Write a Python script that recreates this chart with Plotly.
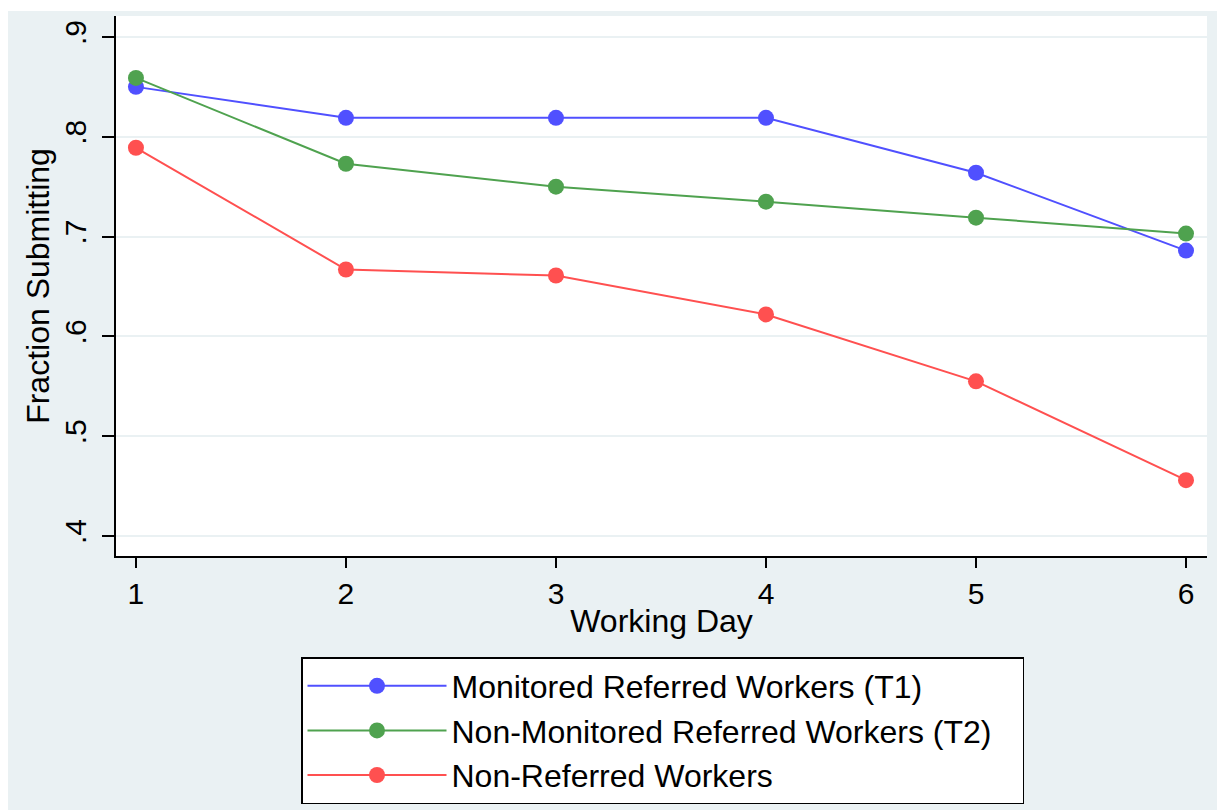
import plotly.graph_objects as go

days = [1, 2, 3, 4, 5, 6]
t1_monitored = [0.850, 0.819, 0.819, 0.819, 0.764, 0.686]
t2_nonmonitored = [0.859, 0.773, 0.750, 0.735, 0.719, 0.703]
non_referred = [0.789, 0.667, 0.661, 0.622, 0.555, 0.456]

series_names = ["Monitored Referred Workers (T1)",
                "Non-Monitored Referred Workers (T2)",
                "Non-Referred Workers"]
series_colors = ["#5050ff", "#4fa24f", "#ff5050"]

y_tickvals = [0.4, 0.5, 0.6, 0.7, 0.8, 0.9]
y_ticktext = [".4", ".5", ".6", ".7", ".8", ".9"]

FONT = "Liberation Sans, Arial, Helvetica, sans-serif"
BG = "#eaf1f3"

fig = go.Figure()
for name, vals, col in zip(series_names, [t1_monitored, t2_nonmonitored, non_referred], series_colors):
    fig.add_trace(go.Scatter(
        x=days, y=vals, name=name, mode="lines+markers",
        line=dict(color=col, width=2),
        marker=dict(color=col, size=16),
    ))

fig.update_layout(
    width=1225, height=810,
    margin=dict(l=108, r=26, t=8, b=262, autoexpand=False),
    paper_bgcolor=BG, plot_bgcolor="white",
    font=dict(family=FONT, color="black", size=30),
    showlegend=True,
    legend=dict(
        x=(301 - 116) / 1091, y=(556 - 657) / 540,
        xanchor="left", yanchor="top",
        orientation="h", entrywidth=566,
        bgcolor="white", bordercolor="black", borderwidth=1.5,
        font=dict(size=32, family=FONT),
        itemwidth=139,
        tracegroupgap=0,
    ),
    xaxis=dict(
        range=[0.905, 6.1], tickvals=days, ticks="outside", ticklen=10, tickwidth=1.5,
        tickcolor="black", showline=True, linecolor="black", linewidth=1.5,
        showgrid=False, zeroline=False,
        title=dict(text="Working Day", font=dict(size=32), standoff=1),
        tickfont=dict(size=30),
    ),
    yaxis=dict(
        range=[0.38, 0.921], tickvals=y_tickvals, ticktext=y_ticktext,
        ticks="outside", ticklen=12, tickwidth=1.5, tickcolor="black",
        showline=True, linecolor="black", linewidth=1.5,
        showgrid=True, gridcolor=BG, gridwidth=2, zeroline=False,
        tickangle=-90, tickfont=dict(size=30), ticklabelstandoff=4,
        title=dict(text="Fraction Submitting", font=dict(size=32), standoff=0),
    ),
    shapes=[
        dict(type="rect", xref="paper", yref="paper",
             x0=-0.2, x1=1.1, y0=(556 - 11) / 540, y1=1.1,
             fillcolor="white", line=dict(width=0), layer="below"),
    ],
)

fig.write_html("out.html")
